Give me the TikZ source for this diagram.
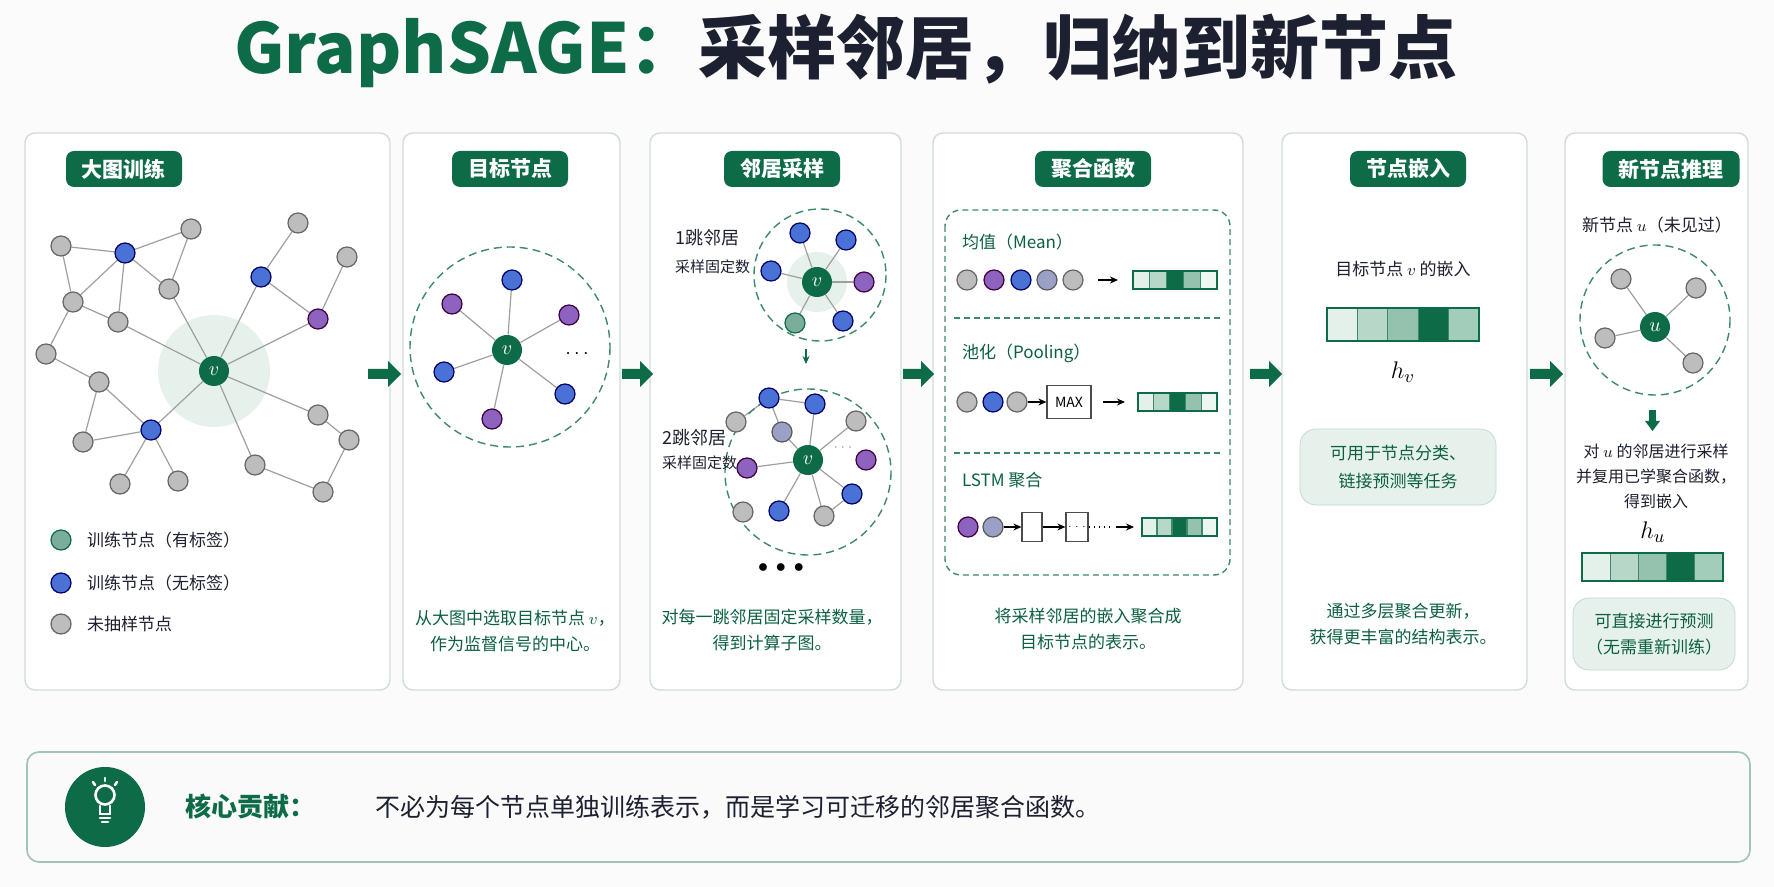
\documentclass[tikz,border=0pt]{standalone}
\usepackage{fontspec}
\setmainfont{Noto Sans CJK SC}
\usetikzlibrary{arrows.meta}
\pgfdeclarelayer{back}
\pgfdeclarelayer{bg}
\pgfsetlayers{back,bg,main}
\definecolor{dg}{HTML}{0E6B48}
\definecolor{gfill}{HTML}{BDBDBD}
\definecolor{bfill}{HTML}{4A72D6}
\definecolor{pfill}{HTML}{8D63BF}
\definecolor{gbfill}{HTML}{9BA1C6}
\definecolor{panelb}{HTML}{CFDDD7}
\definecolor{ink}{HTML}{1C2030}
\definecolor{c1}{HTML}{E4F0EA}
\definecolor{c2}{HTML}{B7D7C9}
\definecolor{c3}{HTML}{94C2AE}
\definecolor{c5}{HTML}{A3CDBB}
\definecolor{c6}{HTML}{EEF6F2}
\definecolor{halo}{HTML}{E7F1EC}
\newcommand{\embar}[5]{%
  \foreach \c [count=\i from 0] in {#5}{%
    \fill[\c] ({#1+\i*(#3-#1)/5},#2) rectangle ({#1+(\i+1)*(#3-#1)/5},#4);
    \draw[dg!80,line width=0.6pt] ({#1+\i*(#3-#1)/5},#2) rectangle ({#1+(\i+1)*(#3-#1)/5},#4);}
  \draw[dg,line width=0.8pt] (#1,#2) rectangle (#3,#4);}
\newcommand{\blockarrow}[3]{%
  \fill[dg] (#1,#3-5) -- (#2-13,#3-5) -- (#2-13,#3-13) -- (#2,#3) -- (#2-13,#3+13) -- (#2-13,#3+5) -- (#1,#3+5) -- cycle;}
\tikzset{
  nd/.style={circle,inner sep=0pt,minimum size=10pt,line width=0.6pt},
  gn/.style={nd,fill=gfill,draw=gray!80!black},
  bn/.style={nd,fill=bfill,draw=blue!40!black},
  pn/.style={nd,fill=pfill,draw=violet!50!black},
  gbn/.style={nd,fill=gbfill,draw=gray!70!black},
  ln/.style={nd,fill=dg!55!white,draw=dg},
  vn/.style={circle,inner sep=0pt,minimum size=15pt,fill=dg,text=white,font=\fontsize{10}{10}\selectfont},
  ed/.style={draw=gray!75,line width=0.6pt},
  panel/.style={draw=panelb,line width=0.7pt,rounded corners=5pt,fill=white},
  tab/.style={fill=dg,rounded corners=4pt,text=white,font=\fontsize{10.5}{12}\selectfont\bfseries,minimum height=18pt,inner xsep=8pt},
  body/.style={font=\fontsize{8.5}{13}\selectfont,align=center},
  gtxt/.style={body,text=dg!90!black},
  ktxt/.style={body,text=ink},
  dcirc/.style={draw=dg!80,dashed,dash pattern=on 4pt off 2.5pt,line width=0.7pt},
  sarr/.style={-{Stealth[length=4pt,width=3.5pt]},line width=0.6pt,draw=black},
}
\begin{document}
\begin{tikzpicture}[x=0.5pt,y=-0.5pt]
\useasboundingbox (0,0) rectangle (1774,887);
\begin{pgfonlayer}{back}
\fill[white!97!gray] (0,0) rectangle (1774,887);
\draw[panel] (25,133) rectangle (390,690);
\draw[panel] (403,133) rectangle (620,690);
\draw[panel] (650,133) rectangle (901,690);
\draw[panel] (933,133) rectangle (1243,690);
\draw[panel] (1282,133) rectangle (1527,690);
\draw[panel] (1565,133) rectangle (1748,690);
\fill[halo] (214,371) circle (56);
\fill[halo] (817,282) circle (30);
\end{pgfonlayer}
% title
\node (title) at (846,51) {\fontsize{34.5}{38}\selectfont\bfseries\textcolor{dg}{GraphSAGE：}\textcolor{ink}{采样邻居，归纳到新节点}};
\node[tab] (t1) at (124,169) {大图训练};
\node[tab] (t2) at (510,169) {目标节点};
\node[tab] (t3) at (782,169) {邻居采样};
\node[tab] (t4) at (1093,169) {聚合函数};
\node[tab] (t5) at (1408,169) {节点嵌入};
\node[tab] (t6) at (1671,169) {新节点推理};
% arrows between panels
\blockarrow{368}{401}{374}
\blockarrow{622}{653}{374}
\blockarrow{903}{934}{374}
\blockarrow{1250}{1282}{374}
\blockarrow{1530}{1563}{374}
% ---------- panel 1
\node[gn] (g1) at (61,246) {};
\node[bn] (b1) at (125,253) {};
\node[gn] (g2) at (191,229) {};
\node[gn] (g3) at (73,302) {};
\node[gn] (g4) at (169,289) {};
\node[gn] (g5) at (118,322) {};
\node[gn] (g6) at (46,354) {};
\node[gn] (g7) at (99,382) {};
\node[bn] (b2) at (151,430) {};
\node[gn] (g8) at (83,442) {};
\node[gn] (g13) at (120,484) {};
\node[gn] (g14) at (178,481) {};
\node[gn] (g15) at (255,465) {};
\node[gn] (g11) at (318,415) {};
\node[gn] (g16) at (349,440) {};
\node[gn] (g17) at (323,492) {};
\node[bn] (b3) at (261,277) {};
\node[gn] (g9) at (298,223) {};
\node[gn] (g10) at (347,257) {};
\node[pn] (p1) at (318,319) {};
\node[vn] (v1) at (214,371) {$v$};
\begin{pgfonlayer}{bg}
\foreach \a/\b in {g1/b1,b1/g2,g2/g4,b1/g4,g1/g3,b1/g3,b1/g5,g3/g5,g5/v1,g4/v1,g3/g6,g6/g7,g7/b2,g7/g8,g8/b2,b2/g13,b2/g14,b2/v1,v1/b3,b3/g9,b3/p1,g10/p1,p1/v1,v1/g11,g11/g16,g16/g17,g17/g15,g15/v1}
  \draw[ed] (\a) -- (\b);
\end{pgfonlayer}
\node[ln] (lg) at (61,540) {};
\node[bn] (lb) at (61,583) {};
\node[gn] (lgr) at (61,624) {};
\node[ktxt,anchor=west] (lt1) at (80,540) {训练节点（有标签）};
\node[ktxt,anchor=west] (lt2) at (80,583) {训练节点（无标签）};
\node[ktxt,anchor=west] (lt3) at (80,624) {未抽样节点};
% ---------- panel 2
\draw[dcirc] (510,347) circle (100);
\node[vn] (v2) at (507,350) {$v$};
\node[bn] (q1) at (512,280) {};
\node[pn] (q2) at (452,304) {};
\node[pn] (q3) at (569,315) {};
\node[bn] (q4) at (444,372) {};
\node[bn] (q5) at (565,394) {};
\node[pn] (q6) at (492,419) {};
\node (qd) at (577,354) {$\cdots$};
\begin{pgfonlayer}{bg}
\foreach \n in {q1,q2,q3,q4,q5,q6} \draw[ed] (v2) -- (\n);
\end{pgfonlayer}
\node[gtxt] (p2t) at (515,631) {从大图中选取目标节点 $v$，\\作为监督信号的中心。};
% ---------- panel 3
\draw[dcirc] (820,275) circle (66);
\node[vn] (v3) at (817,282) {$v$};
\begin{scope}[every node/.append style={minimum size=8.5pt}]
\node[bn] (r1) at (800,233) {};
\node[bn] (r2) at (846,240) {};
\node[bn] (r3) at (771,271) {};
\node[pn] (r4) at (864,282) {};
\node[ln] (r5) at (795,323) {};
\node[bn] (r6) at (843,321) {};
\end{scope}
\begin{pgfonlayer}{bg}
\foreach \n in {r1,r2,r3,r4,r5,r6} \draw[ed] (v3) -- (\n);
\end{pgfonlayer}
\node[ktxt,anchor=west,font=\fontsize{9}{10}\selectfont] (h1) at (668,238) {1跳邻居};
\node[ktxt,anchor=west,font=\fontsize{7.5}{10}\selectfont] (h1b) at (668,267) {采样固定数};
\coordinate (da1) at (806,349);
\coordinate (da2) at (806,364);
\draw[sarr,draw=dg] (da1) -- (da2);
\draw[dcirc] (808,472) circle (83);
\node[vn] (v4) at (808,460) {$v$};
\begin{scope}[every node/.append style={minimum size=8.5pt}]
\node[bn] (s1) at (769,398) {};
\node[bn] (s2) at (815,404) {};
\node[gn] (s3) at (736,422) {};
\node[gbn] (s4) at (782,432) {};
\node[gn] (s5) at (856,421) {};
\node[pn] (s6) at (866,460) {};
\node[pn] (s7) at (747,468) {};
\node[bn] (s8) at (852,494) {};
\node[gn] (s9) at (743,512) {};
\node[bn] (s10) at (779,511) {};
\node[gn] (s11) at (824,516) {};
\end{scope}
\node[font=\fontsize{6}{6}\selectfont,text=gray] (sd) at (843,448) {$\cdots$};
\begin{pgfonlayer}{bg}
\foreach \n in {s2,s4,s5,s7,s8,s10,s11} \draw[ed] (v4) -- (\n);
\foreach \a/\b in {s1/s2,s1/s3,s1/s4,s11/s8} \draw[ed] (\a) -- (\b);
\end{pgfonlayer}
\node[ktxt,anchor=west,font=\fontsize{9}{10}\selectfont] (h2) at (655,438) {2跳邻居};
\node[ktxt,anchor=west,font=\fontsize{7.5}{10}\selectfont] (h2b) at (655,463) {采样固定数};
\node (dots3) at (781,568) {\fontsize{10}{10}\selectfont$\bullet\,\bullet\,\bullet$};
\node[gtxt] (p3t) at (772,630) {对每一跳邻居固定采样数量，\\得到计算子图。};
% ---------- panel 4
\draw[dcirc,dash pattern=on 3pt off 2pt,rounded corners=8pt] (945,210) rectangle (1230,575);
\draw[dcirc,dash pattern=on 3pt off 2pt] (954,318) -- (1221,318);
\draw[dcirc,dash pattern=on 3pt off 2pt] (954,453) -- (1221,453);
\node[gtxt,anchor=west,font=\fontsize{8.5}{10}\selectfont] (m1) at (955,242) {均值（Mean）};
\node[gtxt,anchor=west,font=\fontsize{8.5}{10}\selectfont] (m2) at (955,353) {池化（Pooling）};
\node[gtxt,anchor=west,font=\fontsize{8.5}{10}\selectfont] (m3) at (955,480) {LSTM 聚合};
\begin{scope}[every node/.append style={minimum size=8.5pt}]
\node[gn] (a1) at (967,280) {};
\node[pn] (a2) at (994,280) {};
\node[bn] (a3) at (1021,280) {};
\node[gbn] (a4) at (1047,280) {};
\node[gn] (a5) at (1073,280) {};
\node[gn] (b1p) at (967,402) {};
\node[bn] (b2p) at (993,402) {};
\node[gn] (b3p) at (1017,402) {};
\node[pn] (l1) at (968,527) {};
\node[gbn] (l2) at (993,527) {};
\end{scope}
\coordinate (ma1) at (1098,280); \coordinate (ma2) at (1118,280);
\draw[sarr] (ma1) -- (ma2);
\embar{1133}{271}{1217}{289}{c1,c2,dg,c3,c6}
\node[draw=black!70,line width=0.6pt,minimum width=22pt,minimum height=16.5pt,inner sep=0pt,font=\fontsize{7}{7}\selectfont] (mx) at (1069,402) {MAX};
\draw[sarr] (b3p) -- (mx);
\coordinate (pa1) at (1103,402); \coordinate (pa2) at (1125,402);
\draw[sarr] (pa1) -- (pa2);
\embar{1138}{393}{1217}{411}{c1,c2,dg,c3,c6}
\node[draw=black!70,line width=0.6pt,minimum width=10pt,minimum height=14.5pt,inner sep=0pt] (lb1) at (1032,527) {};
\node[draw=black!70,line width=0.6pt,minimum width=11pt,minimum height=14.5pt,inner sep=0pt,font=\fontsize{5}{5}\selectfont] (lb2) at (1077,527) {$\cdots$};
\draw[sarr] (l2) -- (lb1);
\draw[sarr] (lb1) -- (lb2);
\coordinate (ld1) at (1110,527);
\draw[line width=0.6pt,dotted] (lb2) -- (ld1);
\coordinate (la1) at (1116,527); \coordinate (la2) at (1134,527);
\draw[sarr] (la1) -- (la2);
\embar{1142}{518}{1217}{536}{c1,c2,dg,c3,c6}
\node[gtxt] (p4t) at (1088,629) {将采样邻居的嵌入聚合成\\目标节点的表示。};
% ---------- panel 5
\node[ktxt,font=\fontsize{8.5}{10}\selectfont] (e1) at (1403,269) {目标节点 $v$ 的嵌入};
\embar{1327}{308}{1479}{341}{c1,c2,c3,dg,c5}
\node (hv) at (1403,372) {\fontsize{13}{13}\selectfont$h_v$};
\node[draw=dg!25,fill=halo,rounded corners=8pt,minimum width=98pt,minimum height=38pt,gtxt,font=\fontsize{8.5}{14}\selectfont] (use) at (1398,467) {可用于节点分类、\\链接预测等任务};
\node[gtxt] (p5t) at (1403,624) {通过多层聚合更新，\\获得更丰富的结构表示。};
% ---------- panel 6
\node[ktxt,font=\fontsize{8.5}{10}\selectfont] (n1) at (1657,225) {新节点 $u$（未见过）};
\draw[dcirc] (1655,320) circle (75);
\node[vn] (u) at (1655,327) {$u$};
\node[gn] (w1) at (1621,279) {};
\node[gn] (w2) at (1696,288) {};
\node[gn] (w3) at (1605,338) {};
\node[gn] (w4) at (1693,363) {};
\begin{pgfonlayer}{bg}
\foreach \n in {w1,w2,w3,w4} \draw[ed] (u) -- (\n);
\end{pgfonlayer}
\fill[dg] (1649,410) rectangle (1656,421);
\fill[dg] (1645,421) -- (1660,421) -- (1652.5,431) -- cycle;
\node[ktxt,font=\fontsize{8}{12.5}\selectfont] (n2) at (1656,476) {对 $u$ 的邻居进行采样\\并复用已学聚合函数，\\得到嵌入};
\node (hu) at (1653,532) {\fontsize{13}{13}\selectfont$h_u$};
\embar{1582}{553}{1723}{581}{c1,c2,c3,dg,c5}
\node[draw=dg!25,fill=halo,rounded corners=8pt,minimum width=81pt,minimum height=36pt,gtxt,font=\fontsize{8.5}{13}\selectfont] (pred) at (1654,634) {可直接进行预测\\（无需重新训练）};
% ---------- bottom box
\draw[draw=dg!40,line width=0.8pt,rounded corners=6pt,fill=white!96!gray] (27,752) rectangle (1750,862);
\node[circle,fill=dg,minimum size=40pt,inner sep=0pt] (icon) at (105,807) {};
\begin{scope}[white,line width=1.3pt,line cap=round]
\draw (105,795) circle (9.5);
\draw (100,806) -- (100,814) -- (110,814) -- (110,806);
\draw (100,818) -- (110,818);
\draw (102,822) -- (108,822);
\draw (105,778) -- (105,781);
\draw (93,782) -- (95,785);
\draw (117,782) -- (115,785);
\end{scope}
\node[anchor=west,text=dg,font=\fontsize{13}{14}\selectfont\bfseries] (core) at (178,807) {核心贡献：};
\node[anchor=west,text=ink,font=\fontsize{12.5}{14}\selectfont] (coret) at (368,807) {不必为每个节点单独训练表示，而是学习可迁移的邻居聚合函数。};
\end{tikzpicture}
\end{document}
